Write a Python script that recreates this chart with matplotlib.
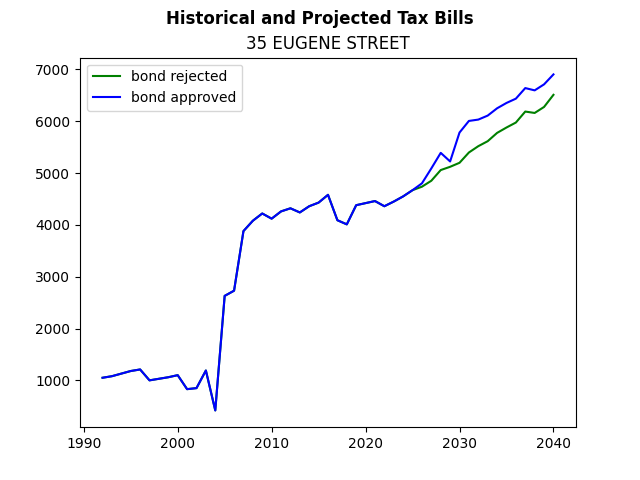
import matplotlib
matplotlib.use("Agg")
import matplotlib.pyplot as plt

years = list(range(1992, 2041))
historical = [1050, 1080, 1130, 1180, 1210, 1000, 1030, 1060, 1100, 830,
              850, 1190, 420, 2630, 2730, 3880, 4080, 4220, 4120, 4260,
              4320, 4240, 4360, 4430, 4580, 4090, 4010, 4380, 4420, 4460,
              4360, 4450, 4550]
rejected_proj = [4670, 4737, 4852, 5058, 5121, 5198, 5397, 5519, 5615, 5775,
                 5879, 5975, 6187, 6160, 6276, 6510]
approved_proj = [4670, 4802, 5090, 5390, 5224, 5782, 6006, 6032, 6109, 6250,
                 6353, 6436, 6640, 6596, 6712, 6904]

rejected = historical + rejected_proj
approved = historical + approved_proj

fig, ax = plt.subplots(figsize=(6.4, 4.8), dpi=100)
ax.plot(years, rejected, color="green", label="bond rejected")
ax.plot(years, approved, color="blue", label="bond approved")
fig.suptitle("Historical and Projected Tax Bills", fontweight="bold")
ax.set_title("35 EUGENE STREET")
ax.legend(loc="upper left")
fig.savefig("out.png")
